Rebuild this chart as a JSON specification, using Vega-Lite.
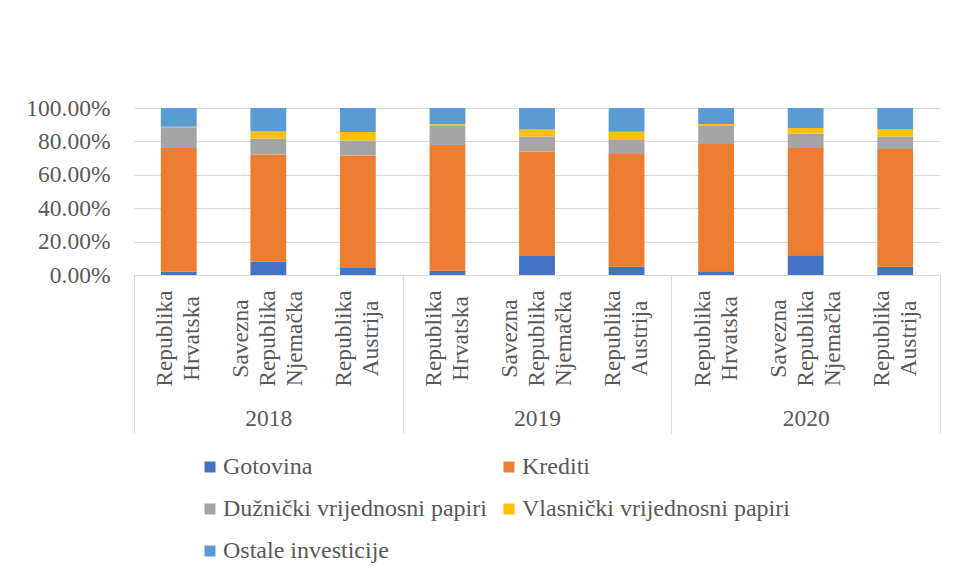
{
  "$schema": "https://vega.github.io/schema/vega-lite/v6.json",
  "width": 806,
  "height": 167,
  "autosize": {"type": "none"},
  "padding": {"left": 134, "top": 108, "right": 17, "bottom": 303},
  "background": "white",
  "config": {
    "font": "Liberation Serif",
    "view": {"stroke": null},
    "axis": {"labelFont": "Liberation Serif", "labelColor": "#595959", "labelFontSize": 23.5},
    "legend": {"labelFont": "Liberation Serif", "labelColor": "#595959", "labelFontSize": 24}
  },
  "data": {
    "values": [
      {"bar": "2018 Republika Hrvatska", "category": "Gotovina", "order": 1, "value": 2.0},
      {"bar": "2018 Republika Hrvatska", "category": "Krediti", "order": 2, "value": 74.0},
      {"bar": "2018 Republika Hrvatska", "category": "Dužnički vrijednosni papiri", "order": 3, "value": 12.0},
      {"bar": "2018 Republika Hrvatska", "category": "Vlasnički vrijednosni papiri", "order": 4, "value": 0.8},
      {"bar": "2018 Republika Hrvatska", "category": "Ostale investicije", "order": 5, "value": 11.2},
      {"bar": "2018 Savezna Republika Njemačka", "category": "Gotovina", "order": 1, "value": 8.0},
      {"bar": "2018 Savezna Republika Njemačka", "category": "Krediti", "order": 2, "value": 64.2},
      {"bar": "2018 Savezna Republika Njemačka", "category": "Dužnički vrijednosni papiri", "order": 3, "value": 9.6},
      {"bar": "2018 Savezna Republika Njemačka", "category": "Vlasnički vrijednosni papiri", "order": 4, "value": 4.2},
      {"bar": "2018 Savezna Republika Njemačka", "category": "Ostale investicije", "order": 5, "value": 14.0},
      {"bar": "2018 Republika Austrija", "category": "Gotovina", "order": 1, "value": 4.2},
      {"bar": "2018 Republika Austrija", "category": "Krediti", "order": 2, "value": 67.4},
      {"bar": "2018 Republika Austrija", "category": "Dužnički vrijednosni papiri", "order": 3, "value": 9.0},
      {"bar": "2018 Republika Austrija", "category": "Vlasnički vrijednosni papiri", "order": 4, "value": 5.0},
      {"bar": "2018 Republika Austrija", "category": "Ostale investicije", "order": 5, "value": 14.4},
      {"bar": "2019 Republika Hrvatska", "category": "Gotovina", "order": 1, "value": 2.6},
      {"bar": "2019 Republika Hrvatska", "category": "Krediti", "order": 2, "value": 75.2},
      {"bar": "2019 Republika Hrvatska", "category": "Dužnički vrijednosni papiri", "order": 3, "value": 11.4},
      {"bar": "2019 Republika Hrvatska", "category": "Vlasnički vrijednosni papiri", "order": 4, "value": 1.0},
      {"bar": "2019 Republika Hrvatska", "category": "Ostale investicije", "order": 5, "value": 9.8},
      {"bar": "2019 Savezna Republika Njemačka", "category": "Gotovina", "order": 1, "value": 11.4},
      {"bar": "2019 Savezna Republika Njemačka", "category": "Krediti", "order": 2, "value": 62.6},
      {"bar": "2019 Savezna Republika Njemačka", "category": "Dužnički vrijednosni papiri", "order": 3, "value": 9.0},
      {"bar": "2019 Savezna Republika Njemačka", "category": "Vlasnički vrijednosni papiri", "order": 4, "value": 4.2},
      {"bar": "2019 Savezna Republika Njemačka", "category": "Ostale investicije", "order": 5, "value": 12.8},
      {"bar": "2019 Republika Austrija", "category": "Gotovina", "order": 1, "value": 5.0},
      {"bar": "2019 Republika Austrija", "category": "Krediti", "order": 2, "value": 67.4},
      {"bar": "2019 Republika Austrija", "category": "Dužnički vrijednosni papiri", "order": 3, "value": 8.4},
      {"bar": "2019 Republika Austrija", "category": "Vlasnički vrijednosni papiri", "order": 4, "value": 5.0},
      {"bar": "2019 Republika Austrija", "category": "Ostale investicije", "order": 5, "value": 14.2},
      {"bar": "2020 Republika Hrvatska", "category": "Gotovina", "order": 1, "value": 2.2},
      {"bar": "2020 Republika Hrvatska", "category": "Krediti", "order": 2, "value": 76.2},
      {"bar": "2020 Republika Hrvatska", "category": "Dužnički vrijednosni papiri", "order": 3, "value": 11.2},
      {"bar": "2020 Republika Hrvatska", "category": "Vlasnički vrijednosni papiri", "order": 4, "value": 0.8},
      {"bar": "2020 Republika Hrvatska", "category": "Ostale investicije", "order": 5, "value": 9.6},
      {"bar": "2020 Savezna Republika Njemačka", "category": "Gotovina", "order": 1, "value": 11.8},
      {"bar": "2020 Savezna Republika Njemačka", "category": "Krediti", "order": 2, "value": 64.2},
      {"bar": "2020 Savezna Republika Njemačka", "category": "Dužnički vrijednosni papiri", "order": 3, "value": 8.8},
      {"bar": "2020 Savezna Republika Njemačka", "category": "Vlasnički vrijednosni papiri", "order": 4, "value": 3.2},
      {"bar": "2020 Savezna Republika Njemačka", "category": "Ostale investicije", "order": 5, "value": 12.0},
      {"bar": "2020 Republika Austrija", "category": "Gotovina", "order": 1, "value": 5.0},
      {"bar": "2020 Republika Austrija", "category": "Krediti", "order": 2, "value": 70.4},
      {"bar": "2020 Republika Austrija", "category": "Dužnički vrijednosni papiri", "order": 3, "value": 7.6},
      {"bar": "2020 Republika Austrija", "category": "Vlasnički vrijednosni papiri", "order": 4, "value": 4.4},
      {"bar": "2020 Republika Austrija", "category": "Ostale investicije", "order": 5, "value": 12.6}
    ]
  },
  "layer": [
    {
      "mark": {"type": "bar", "width": {"band": 0.4}},
      "encoding": {
        "x": {
          "field": "bar", "type": "nominal",
          "sort": ["2018 Republika Hrvatska", "2018 Savezna Republika Njemačka", "2018 Republika Austrija", "2019 Republika Hrvatska", "2019 Savezna Republika Njemačka", "2019 Republika Austrija", "2020 Republika Hrvatska", "2020 Savezna Republika Njemačka", "2020 Republika Austrija"],
          "scale": {"paddingInner": 0, "paddingOuter": 0},
          "axis": {
            "orient": "bottom",
            "title": null,
            "labelExpr": "split(slice(datum.label, 5), ' ')",
            "labelAngle": 270,
            "labelAlign": "center",
            "labelBaseline": "middle",
            "labelPadding": 63,
            "labelLineHeight": 27,
            "labelOffset": {"condition": {"test": "indexof(datum.label, 'Savezna') >= 0", "value": -27}, "value": -13.5},
            "ticks": false,
            "domainColor": "#D9D9D9",
            "domainWidth": 1,
            "labelOverlap": false,
            "labelBound": false,
            "grid": false
          }
        },
        "y": {
          "field": "value", "type": "quantitative", "stack": "normalize",
          "scale": {"domain": [0, 1]},
          "axis": {
            "title": null,
            "labelExpr": "format(datum.value, '.2%')",
            "values": [0, 0.2, 0.4, 0.6, 0.8, 1],
            "domain": false,
            "ticks": false,
            "labelPadding": 24,
            "gridColor": "#D9D9D9",
            "gridWidth": 1
          }
        },
        "color": {
          "field": "category", "type": "nominal",
          "scale": {
            "domain": ["Gotovina", "Krediti", "Dužnički vrijednosni papiri", "Vlasnički vrijednosni papiri", "Ostale investicije"],
            "range": ["#4472C4", "#ED7D31", "#A5A5A5", "#FFC000", "#5B9BD5"]
          },
          "legend": {
            "title": null,
            "orient": "none",
            "direction": "horizontal",
            "legendX": 64,
            "legendY": 347,
            "columns": 2,
            "symbolType": "square",
            "symbolSize": 121,
            "symbolStrokeWidth": 0,
            "labelFont": "Liberation Serif",
            "labelFontSize": 24,
            "labelColor": "#595959",
            "labelOffset": 1,
            "labelLimit": 0,
            "rowPadding": 18,
            "columnPadding": 10
          }
        },
        "order": {"field": "order", "type": "quantitative"}
      }
    },
    {
      "mark": {"type": "rule", "opacity": 0},
      "encoding": {
        "x": {
          "field": "bar", "type": "nominal",
          "sort": ["2018 Republika Hrvatska", "2018 Savezna Republika Njemačka", "2018 Republika Austrija", "2019 Republika Hrvatska", "2019 Savezna Republika Njemačka", "2019 Republika Austrija", "2020 Republika Hrvatska", "2020 Savezna Republika Njemačka", "2020 Republika Austrija"],
          "axis": {
            "orient": "bottom",
            "title": null,
            "labelExpr": "indexof(datum.label, 'Njema') >= 0 ? slice(datum.label, 0, 4) : ''",
            "labelAngle": 0,
            "labelAlign": "center",
            "labelBaseline": "middle",
            "labelPadding": -15,
            "tickBand": "extent",
            "tickSize": 158,
            "tickWidth": 1,
            "tickColor": {"condition": {"test": "!datum.value || indexof(datum.value, 'Austrija') >= 0", "value": "#D9D9D9"}, "value": "transparent"},
            "domain": false,
            "grid": false,
            "labelOverlap": false,
            "labelBound": false
          }
        }
      }
    }
  ],
  "resolve": {"axis": {"x": "independent"}}
}
